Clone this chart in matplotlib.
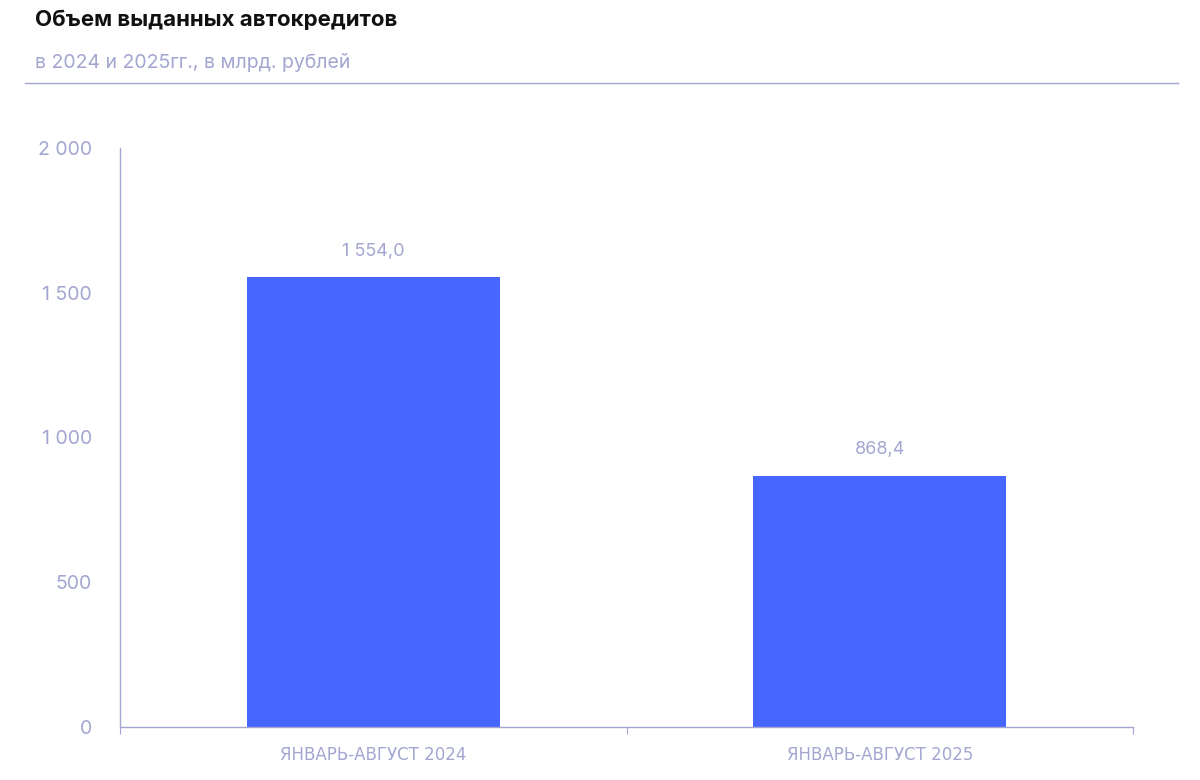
import matplotlib.pyplot as plt
from matplotlib.ticker import FuncFormatter

categories = ["ЯНВАРЬ-АВГУСТ 2024", "ЯНВАРЬ-АВГУСТ 2025"]
values = [1554.0, 868.4]
yticks = [0, 500, 1000, 1500, 2000]

plt.rcParams['font.family'] = ['Inter', 'DejaVu Sans']
grey = '#a3a6d0'
blue = '#4766ff'

fig = plt.figure(figsize=(12, 7.8), dpi=100)
ax = fig.add_axes([0.1, 1 - 727 / 780, (1133 - 120) / 1200, (727 - 148) / 780])

xs = list(range(len(categories)))
ax.bar(xs, values, width=0.5, color=blue)
for x, v in zip(xs, values):
    lab = f"{v:,.1f}".replace(",", " ").replace(".", ",")
    ax.text(x, v + 60, lab, ha='center', va='bottom', color=grey, fontsize=13)

ax.set_xlim(-0.5, 1.5)
ax.set_ylim(0, 2000)
ax.set_yticks(yticks)
ax.yaxis.set_major_formatter(FuncFormatter(lambda v, p: f"{int(v):,}".replace(",", " ")))
ax.set_xticks([-0.5, 0.5, 1.5])
ax.set_xticklabels([])
ax.set_xticks(xs, minor=True)
ax.set_xticklabels(categories, minor=True)
ax.tick_params(axis='x', which='minor', length=0, pad=14, labelcolor=grey, labelsize=12)
ax.tick_params(axis='x', which='major', length=5, color=grey)
ax.tick_params(axis='y', length=0, pad=20, labelcolor=grey, labelsize=14)
for lbl in ax.get_xticklabels(minor=True):
    lbl.set_fontfamily(['DejaVu Sans'])
for s in ['top', 'right']:
    ax.spines[s].set_visible(False)
for s in ['left', 'bottom']:
    ax.spines[s].set_color(grey)
    ax.spines[s].set_linewidth(1)

fig.text(35 / 1200, 1 - 20 / 780, "Объем выданных автокредитов", fontsize=16,
         fontweight='bold', color='#111111', va='center')
fig.text(35 / 1200, 1 - 62 / 780, "в 2024 и 2025гг., в млрд. рублей", fontsize=14,
         color=grey, va='center')
fig.add_artist(plt.Line2D([25 / 1200, 1178 / 1200], [1 - 83 / 780] * 2, color=grey, lw=1))

fig.savefig("out.png", dpi=100)
